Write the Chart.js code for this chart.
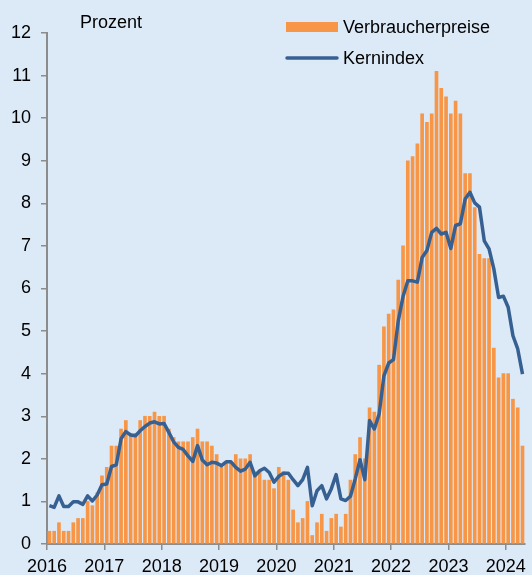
<!DOCTYPE html>
<html>
<head>
<meta charset="utf-8">
<script src="https://cdn.jsdelivr.net/npm/chart.js@4/dist/chart.umd.min.js"></script>
<style>
  html, body { margin: 0; padding: 0; background: #dce9f7; }
  #wrap { width: 532px; height: 575px; }
</style>
</head>
<body>
<div id="wrap"><canvas id="chart" width="532" height="575"></canvas></div>
<script>
// Monthly values, Jan 2016 - Apr 2024
const yearLabels = ['2016', '2017', '2018', '2019', '2020', '2021', '2022', '2023', '2024'];

const consumerPrices = [
    0.3, 0.3, 0.5, 0.3, 0.3, 0.5, 0.6, 0.6, 1.0, 0.9, 1.2, 1.6,
    1.8, 2.3, 2.3, 2.7, 2.9, 2.6, 2.6, 2.9, 3.0, 3.0, 3.1, 3.0,
    3.0, 2.7, 2.5, 2.4, 2.4, 2.4, 2.5, 2.7, 2.4, 2.4, 2.3, 2.1,
    1.8, 1.9, 1.9, 2.1, 2.0, 2.0, 2.1, 1.7, 1.7, 1.5, 1.5, 1.3,
    1.8, 1.7, 1.5, 0.8, 0.5, 0.6, 1.0, 0.2, 0.5, 0.7, 0.3, 0.6,
    0.7, 0.4, 0.7, 1.5, 2.1, 2.5, 2.0, 3.2, 3.1, 4.2, 5.1, 5.4,
    5.5, 6.2, 7.0, 9.0, 9.1, 9.4, 10.1, 9.9, 10.1, 11.1, 10.7, 10.5,
    10.1, 10.4, 10.1, 8.7, 8.7, 7.9, 6.8, 6.7, 6.7, 4.6, 3.9, 4.0,
    4.0, 3.4, 3.2, 2.3
];

const coreIndex = [
    0.90, 0.86, 1.13, 0.88, 0.88, 0.99, 0.99, 0.93, 1.13, 1.01, 1.15, 1.39,
    1.41, 1.82, 1.86, 2.47, 2.64, 2.56, 2.54, 2.66, 2.76, 2.84, 2.87, 2.82,
    2.83, 2.62, 2.40, 2.27, 2.22, 2.07, 1.94, 2.31, 1.97, 1.86, 1.92, 1.90,
    1.84, 1.93, 1.93, 1.80, 1.71, 1.76, 1.92, 1.60, 1.72, 1.78, 1.68, 1.45,
    1.59, 1.66, 1.66, 1.51, 1.37, 1.51, 1.80, 0.90, 1.25, 1.37, 1.06, 1.30,
    1.63, 1.06, 1.02, 1.12, 1.53, 1.98, 1.51, 2.90, 2.70, 3.05, 3.95, 4.25,
    4.33, 5.24, 5.81, 6.18, 6.18, 6.15, 6.73, 6.89, 7.32, 7.41, 7.28, 7.32,
    6.94, 7.48, 7.52, 8.10, 8.26, 8.01, 7.91, 7.12, 6.93, 6.46, 5.79, 5.82,
    5.56, 4.89, 4.58, 3.99
];

const BG = '#dce9f7';
const ORANGE = '#f79646';
const BLUE = '#376092';
const AXIS = '#8c8c8c';
const FONT = '"Liberation Sans", Arial, sans-serif';

// month i sits in the middle of its slot on the time axis
const toPoints = (values) => values.map((v, i) => ({ x: i + 0.5, y: v }));

const backgroundPlugin = {
    id: 'background',
    beforeDraw(chart) {
        const { ctx } = chart;
        ctx.save();
        ctx.fillStyle = BG;
        ctx.fillRect(0, 0, chart.width, chart.height);
        ctx.restore();
    }
};

// Legend and unit label, drawn at their places in the top area
const labelsPlugin = {
    id: 'labels',
    afterDraw(chart) {
        const { ctx } = chart;
        const [bars, line] = chart.data.datasets;
        ctx.save();
        ctx.font = `18px ${FONT}`;
        ctx.fillStyle = '#000';
        ctx.textBaseline = 'alphabetic';
        ctx.fillText('Prozent', 80, 28);

        ctx.fillStyle = bars.backgroundColor;
        ctx.fillRect(286, 22, 52, 10);
        ctx.fillStyle = '#000';
        ctx.fillText(bars.label, 343, 33);

        ctx.strokeStyle = line.borderColor;
        ctx.lineWidth = 3.5;
        ctx.lineCap = 'round';
        ctx.beginPath();
        ctx.moveTo(287, 58);
        ctx.lineTo(337, 58);
        ctx.stroke();
        ctx.fillText(line.label, 343, 64);
        ctx.restore();
    }
};

new Chart(document.getElementById('chart'), {
    type: 'bar',
    data: {
        datasets: [
            {
                type: 'bar',
                label: 'Verbraucherpreise',
                data: toPoints(consumerPrices),
                backgroundColor: ORANGE,
                barThickness: 3,
                order: 2
            },
            {
                type: 'line',
                label: 'Kernindex',
                data: toPoints(coreIndex),
                borderColor: BLUE,
                borderWidth: 3.5,
                borderJoinStyle: 'round',
                pointRadius: 0,
                tension: 0,
                fill: false,
                order: 1
            }
        ]
    },
    options: {
        responsive: false,
        animation: false,
        layout: { padding: { top: 33, right: 5, left: 0, bottom: 0 } },
        plugins: {
            legend: { display: false },
            tooltip: { enabled: false }
        },
        scales: {
            x: {
                type: 'linear',
                min: 0,
                max: consumerPrices.length,
                offset: false,
                afterFit: (scale) => { scale.height = 31; },
                afterBuildTicks: (scale) => {
                    scale.ticks = yearLabels.map((_, k) => ({ value: k * 12 }));
                },
                grid: { offset: false, drawOnChartArea: false, tickLength: 6, color: AXIS, lineWidth: 1.5 },
                border: { color: AXIS, width: 2 },
                ticks: {
                    autoSkip: false,
                    maxRotation: 0,
                    padding: 6,
                    color: '#000',
                    font: { family: FONT, size: 18 },
                    callback: (value) => yearLabels[value / 12]
                }
            },
            y: {
                min: 0,
                max: 12,
                afterFit: (scale) => { scale.width = 47; },
                grid: { drawOnChartArea: false, tickLength: 6, color: AXIS, lineWidth: 1.5 },
                border: { color: AXIS, width: 2 },
                ticks: {
                    stepSize: 1,
                    padding: 10,
                    color: '#000',
                    font: { family: FONT, size: 18 }
                }
            }
        }
    },
    plugins: [backgroundPlugin, labelsPlugin]
});
</script>
</body>
</html>
